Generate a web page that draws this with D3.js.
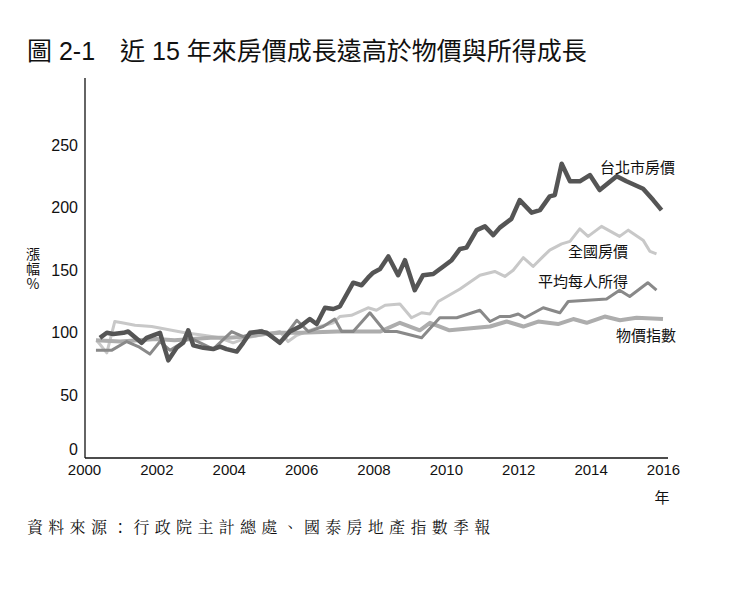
<!DOCTYPE html>
<meta charset="utf-8">
<style>
body { margin: 0; background: #fff; }
svg { display: block; }
.title { font-family: "Liberation Sans", "Noto Sans CJK TC", sans-serif; font-size: 25px; fill: #111; }
.axis text { font-family: "Liberation Sans", Arial, sans-serif; font-size: 15px; fill: #111; }
.yaxis text { font-size: 16px; }
.lab { font-family: "Noto Sans CJK TC", sans-serif; font-size: 15px; fill: #111; }
.ytitle { font-family: "Noto Sans CJK TC", sans-serif; font-size: 14px; fill: #111;
  writing-mode: vertical-rl; text-orientation: upright; letter-spacing: 1px; }
.src { font-family: "Noto Serif CJK TC", serif; font-size: 16px; fill: #111; letter-spacing: 5.3px; }
.line { fill: none; stroke-linejoin: round; stroke-linecap: butt; }
</style>
<body>
<svg id="chart" width="737" height="603"></svg>
<script src="https://d3js.org/d3.v7.min.js"></script>
<script>

// ---- data (year, index) ----
var xTicks = [2000, 2002, 2004, 2006, 2008, 2010, 2012, 2014, 2016];
var yTicks = [0, 50, 100, 150, 200, 250];

var taipei = [[2000.44,96],[2000.63,100],[2000.81,99],[2001.09,100],[2001.22,101],[2001.59,92],[2001.73,96],
  [2001.91,98],[2002.10,100],[2002.33,78],[2002.56,88],[2002.74,92],[2002.88,102],[2003.02,90],[2003.30,88],
  [2003.57,87],[2003.76,89],[2003.94,87],[2004.22,85],[2004.40,92],[2004.59,100],[2004.86,101],[2005.05,100],
  [2005.41,92],[2005.69,101],[2005.97,105],[2006.24,111],[2006.43,107],[2006.66,120],[2006.89,119],[2007.07,121],
  [2007.44,140],[2007.67,138],[2007.85,144],[2007.99,148],[2008.18,151],[2008.41,161],[2008.68,146],[2008.87,158],
  [2009.14,134],[2009.37,146],[2009.65,147],[2009.93,153],[2010.16,158],[2010.39,167],[2010.57,168],[2010.85,182],
  [2011.08,185],[2011.31,178],[2011.49,184],[2011.81,191],[2012.04,206],[2012.37,196],[2012.60,198],[2012.87,209],
  [2013.01,210],[2013.20,235],[2013.43,221],[2013.70,221],[2013.98,226],[2014.25,214],[2014.72,225],[2014.99,221],
  [2015.45,215],[2015.73,206],[2015.96,198]];

var national = [[2000.35,94],[2000.63,84],[2000.85,109],[2001.05,108],[2001.41,106],[2001.87,105],[2002.42,102],
  [2002.79,100],[2003.30,98],[2003.75,96],[2004.12,92],[2004.49,96],[2004.86,98],[2005.23,100],[2005.41,101],
  [2005.64,93],[2005.88,98],[2006.52,105],[2006.89,108],[2007.07,113],[2007.39,114],[2007.62,117],[2007.85,120],
  [2008.08,118],[2008.32,122],[2008.73,123],[2009.05,112],[2009.33,116],[2009.56,115],[2009.79,125],[2010.39,135],
  [2010.94,146],[2011.35,149],[2011.63,145],[2011.86,150],[2012.14,160],[2012.41,153],[2012.69,161],[2012.87,166],
  [2013.20,171],[2013.43,173],[2013.70,183],[2013.93,177],[2014.30,185],[2014.80,177],[2015.04,182],[2015.45,174],
  [2015.64,165],[2015.82,163]];

var income = [[2000.33,86],[2000.76,86],[2001.18,93],[2001.50,89],[2001.82,83],[2002.10,93],[2002.38,86],
  [2002.93,96],[2003.57,87],[2004.08,101],[2004.40,97],[2004.91,102],[2005.41,92],[2005.88,110],[2006.20,101],
  [2006.61,105],[2006.93,111],[2007.12,101],[2007.44,101],[2007.90,116],[2008.32,101],[2008.64,101],[2009.33,96],
  [2009.83,112],[2010.30,112],[2010.94,118],[2011.22,109],[2011.49,113],[2011.77,113],[2012.00,115],[2012.18,112],
  [2012.69,120],[2013.15,116],[2013.38,125],[2014.44,127],[2014.80,134],[2015.08,129],[2015.58,140],[2015.82,134]];

var cpi = [[2000.33,94],[2001.00,93],[2001.50,94],[2002.00,95],[2002.50,94],[2003.00,95],[2003.50,96],[2004.00,96],
  [2004.50,97],[2005.00,99],[2005.41,100],[2006.00,100],[2007.00,101],[2008.18,101],[2008.73,108],[2009.28,102],
  [2009.56,108],[2010.10,102],[2011.22,105],[2011.68,109],[2012.14,105],[2012.55,109],[2013.10,107],[2013.52,111],
  [2013.89,108],[2014.39,113],[2014.81,110],[2015.27,112],[2016.00,111]];

var seriesNames = ["台北市房價", "全國房價", "平均每人所得", "物價指數"];

// ---- layout ----
var svg = d3.select("#chart");
var x = d3.scaleLinear().domain([2000, 2016]).range([84, 663]);
var y = d3.scaleLinear().domain([0, 300]).range([458, 82.4]);

svg.append("text").attr("class", "title").attr("x", 27).attr("y", 60)
  .text("圖 2-1\u3000近 15 年來房價成長遠高於物價與所得成長");

// axes lines
svg.append("line").attr("x1", x(2000)+1).attr("x2", x(2000)+1).attr("y1", 78).attr("y2", y(0))
  .attr("stroke", "#111").attr("stroke-width", 1.3);
svg.append("line").attr("x1", x(2000)+1).attr("x2", 668).attr("y1", y(0)).attr("y2", y(0))
  .attr("stroke", "#111").attr("stroke-width", 1.3);

var yAxis = svg.append("g").attr("class", "axis yaxis")
  .attr("transform", "translate(" + (x(2000) - 6) + ",0)")
  .call(d3.axisLeft(y).tickValues(yTicks).tickSize(0).tickPadding(0));
yAxis.select(".domain").remove();
yAxis.selectAll("text").filter(function(d) { return d === 0; }).attr("dy", "-0.2em");

var xAxis = svg.append("g").attr("class", "axis")
  .attr("transform", "translate(0," + (y(0) + 6) + ")")
  .call(d3.axisBottom(x).tickValues(xTicks).tickFormat(d3.format("d")).tickSize(0).tickPadding(0));
xAxis.select(".domain").remove();

// vertical y-axis title
svg.append("text").attr("class", "ytitle").attr("x", 33).attr("y", 247).text("漲幅%");
svg.append("text").attr("class", "lab").attr("x", 662).attr("y", 503)
  .attr("text-anchor", "middle").text("年");

// lines
var line = d3.line().x(function(d) { return x(d[0]); }).y(function(d) { return y(d[1]); });

svg.append("path").datum(national).attr("class", "line").attr("stroke", "#c8c8c8").attr("stroke-width", 3).attr("d", line);
svg.append("path").datum(cpi).attr("class", "line").attr("stroke", "#adadad").attr("stroke-width", 4).attr("d", line);
svg.append("path").datum(income).attr("class", "line").attr("stroke", "#898989").attr("stroke-width", 3).attr("d", line);
svg.append("path").datum(taipei).attr("class", "line").attr("stroke", "#555555").attr("stroke-width", 4.5).attr("d", line);

// series labels
var labelPos = [[600, 173], [568, 257], [538, 287], [616, 341]];
seriesNames.forEach(function(n, i) {
  svg.append("text").attr("class", "lab").attr("x", labelPos[i][0]).attr("y", labelPos[i][1]).text(n);
});

svg.append("text").attr("class", "src").attr("x", 27).attr("y", 533)
  .text("資料來源：行政院主計總處、國泰房地產指數季報");

</script>
</body>
